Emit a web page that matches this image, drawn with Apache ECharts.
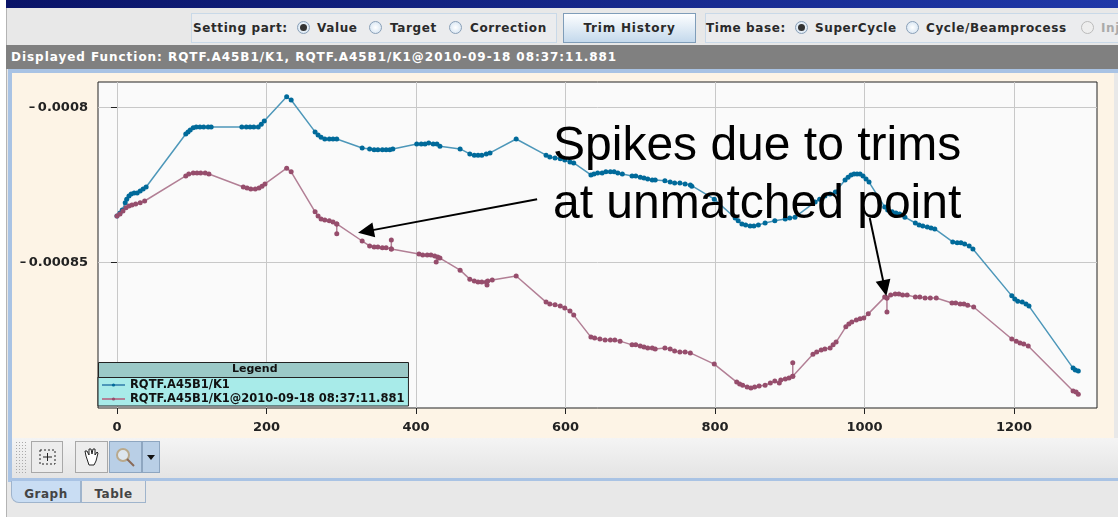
<!DOCTYPE html>
<html>
<head>
<meta charset="utf-8">
<title>Trim history</title>
<script src="https://cdn.jsdelivr.net/npm/echarts@6/dist/echarts.min.js"></script>
<style>
html, body { margin: 0; padding: 0; background: #fff; }
#page { position: relative; width: 1118px; height: 517px; overflow: hidden; font: bold 12px "DejaVu Sans", sans-serif; color: #2a2a2a; }
#page div, #page span { position: absolute; white-space: nowrap; }
#chart { left: 0; top: 0; width: 1118px; height: 517px; }
.titlebar { left: 6px; top: 0; width: 1112px; height: 8px; background: linear-gradient(90deg, #0a1468, #2038a8); }
.back { left: 6px; top: 8px; width: 1112px; height: 509px; background: #e8e8e8; border-left: 1px solid #b4b4b4; }
.box { top: 13px; height: 28px; border: 1px solid #c9d9e8; background: #ebecee; }
.lbl { top: 20px; line-height: 16px; letter-spacing: 0.6px; }
.radio { top: 21px; width: 11px; height: 11px; border-radius: 50%; border: 1px solid #8aa0b8; background: radial-gradient(#fff, #cfe0f0); }
.radio.on::after { content: ""; position: absolute; left: 2px; top: 2px; width: 7px; height: 7px; border-radius: 50%; background: #333; }
.trim { left: 563px; top: 13px; width: 131px; height: 28px; line-height: 28px; text-align: center; letter-spacing: 0.8px; border: 1px solid #7f9db9; background: linear-gradient(#fdfeff, #c4d9ec); }
.grey { left: 6px; top: 45px; width: 1112px; height: 24px; line-height: 24px; background: #808080; color: #fff; letter-spacing: 0.96px; }
.edge { left: 8px; top: 69px; width: 1110px; height: 4px; background: #a9c3e4; }
.edgeL { left: 8px; top: 69px; width: 4px; height: 413px; background: #a9c3e4; }
.cream { left: 12px; top: 73px; width: 1102px; height: 365px; background: #fdf4e6; }
.tools { left: 12px; top: 438px; width: 1106px; height: 40px; background: linear-gradient(#f4f4f4, #e4e4e4); }
.grip { left: 15px; top: 441px; width: 11px; height: 33px; background-image: radial-gradient(#aaa 1px, transparent 1px); background-size: 3px 3px; }
.btn { top: 441px; height: 30px; border: 1px solid #a8a8a8; background: #ececec; }
.btn.active { background: #b9cfe6; border-color: #8ea6c0; }
.rule { left: 8px; top: 478px; width: 1110px; height: 3px; background: #a9c3e4; }
.tab { top: 481px; height: 21px; line-height: 27px; text-align: center; color: #444; letter-spacing: 0.5px; border: 1px solid #9fb4cc; border-top: none; }
</style>
</head>
<body>
<div id="page">
  <div class="titlebar"></div>
  <div class="back"></div>
  <div class="box" style="left:191px;width:364px"></div>
  <div class="lbl" style="left:193px">Setting part:</div>
  <div class="radio on" style="left:297px"></div><div class="lbl" style="left:317px">Value</div>
  <div class="radio" style="left:369px"></div><div class="lbl" style="left:390px">Target</div>
  <div class="radio" style="left:449px"></div><div class="lbl" style="left:470px">Correction</div>
  <div class="trim">Trim History</div>
  <div class="box" style="left:705px;width:420px"></div>
  <div class="lbl" style="left:706px">Time base:</div>
  <div class="radio on" style="left:795px"></div><div class="lbl" style="left:815px">SuperCycle</div>
  <div class="radio" style="left:906px"></div><div class="lbl" style="left:926px">Cycle/Beamprocess</div>
  <div class="radio" style="left:1081px;background:#eee;border-color:#bbb"></div><div class="lbl" style="left:1101px;color:#aaa">Inj</div>
  <div class="grey"><span style="left:5px">Displayed Function: RQTF.A45B1/K1, RQTF.A45B1/K1@2010-09-18 08:37:11.881</span></div>
  <div class="edge"></div>
  <div class="edgeL"></div>
  <div class="cream"></div>
  <div class="tools"></div>
  <div class="grip"></div>
  <div class="btn" style="left:31px;width:30px">
    <svg width="30" height="30"><rect x="8" y="8" width="15" height="14" fill="none" stroke="#222" stroke-dasharray="2 2"/><path d="M11 15h9M15.5 11v8" stroke="#222"/></svg>
  </div>
  <div class="btn" style="left:75px;width:31px">
    <svg width="31" height="30"><path d="M10 14l-1-5 2 0 2 4 0-6 2 0 1 5 1-5 2 0 0 6 2-3 1 1-2 8-2 4h-5z" fill="#fff" stroke="#222"/></svg>
  </div>
  <div class="btn active" style="left:109px;width:31px">
    <svg width="31" height="30"><circle cx="13" cy="13" r="6" fill="#dde6ee" stroke="#b9a98c" stroke-width="2"/><path d="M17 17l7 7" stroke="#8a6a58" stroke-width="2"/></svg>
  </div>
  <div class="btn active" style="left:142px;width:16px">
    <svg width="16" height="30"><path d="M4 13h8l-4 5z" fill="#111"/></svg>
  </div>
  <div class="rule"></div>
  <div class="tab" style="left:11px;width:68px;background:#c9ddf3;border-radius:0 0 0 8px">Graph</div>
  <div class="tab" style="left:81px;width:63px;background:#e8e8e8">Table</div>
  <div id="chart"></div>
</div>
<script>
const xTicks = [0, 200, 400, 600, 800, 1000, 1200]
const yTicks = [-0.00085, -0.0008]

const seriesNames = ['RQTF.A45B1/K1', 'RQTF.A45B1/K1@2010-09-18 08:37:11.881']

const currentX = [0, 4, 7, 11, 13, 16, 19, 23, 27, 31, 35, 39, 92, 95, 98, 102, 106, 111, 116, 122, 126, 167, 173, 178, 183, 189, 193, 197, 227, 233, 265, 269, 273, 278, 284, 289, 294, 328, 338, 344, 349, 355, 360, 365, 369, 401, 407, 412, 417, 423, 428, 432, 459, 472, 478, 483, 488, 494, 499, 534, 574, 579, 586, 593, 599, 606, 611, 634, 638, 643, 649, 654, 660, 665, 670, 676, 689, 694, 700, 705, 710, 716, 720, 733, 740, 746, 753, 760, 767, 769, 799, 827, 831, 836, 841, 847, 852, 858, 867, 880, 894, 900, 907, 934, 940, 947, 954, 961, 974, 978, 982, 986, 990, 994, 998, 1002, 1006, 1027, 1031, 1037, 1042, 1047, 1054, 1068, 1073, 1078, 1084, 1089, 1094, 1118, 1124, 1129, 1134, 1140, 1145, 1197, 1201, 1205, 1211, 1216, 1220, 1279, 1282, 1286]
const currentY = [-0.0008349, -0.000834, -0.000833, -0.0008307, -0.0008295, -0.0008285, -0.0008278, -0.0008275, -0.0008275, -0.0008269, -0.0008262, -0.0008256, -0.0008085, -0.0008078, -0.0008072, -0.0008065, -0.0008062, -0.0008062, -0.0008062, -0.0008062, -0.0008062, -0.0008062, -0.0008062, -0.0008062, -0.0008062, -0.0008062, -0.0008053, -0.0008043, -0.0007965, -0.0007975, -0.0008078, -0.0008088, -0.0008095, -0.0008101, -0.0008101, -0.0008101, -0.0008101, -0.000813, -0.0008133, -0.0008136, -0.0008136, -0.0008136, -0.0008136, -0.0008136, -0.0008133, -0.0008117, -0.0008117, -0.0008117, -0.0008114, -0.0008117, -0.0008117, -0.0008124, -0.0008133, -0.0008149, -0.0008153, -0.0008153, -0.0008153, -0.0008149, -0.0008146, -0.0008101, -0.0008153, -0.0008159, -0.0008162, -0.0008165, -0.0008169, -0.0008175, -0.0008178, -0.0008217, -0.0008214, -0.0008211, -0.0008211, -0.0008207, -0.0008207, -0.0008207, -0.0008211, -0.0008214, -0.000822, -0.000822, -0.0008224, -0.0008227, -0.000823, -0.0008233, -0.0008233, -0.0008236, -0.000824, -0.0008243, -0.0008243, -0.0008246, -0.0008249, -0.0008253, -0.0008295, -0.0008356, -0.0008365, -0.0008375, -0.0008378, -0.0008382, -0.0008382, -0.0008378, -0.0008372, -0.0008365, -0.0008359, -0.0008356, -0.0008353, -0.0008304, -0.0008295, -0.0008285, -0.0008278, -0.0008272, -0.0008233, -0.0008224, -0.0008217, -0.0008214, -0.0008214, -0.0008214, -0.000822, -0.000823, -0.000824, -0.000832, -0.000833, -0.0008336, -0.000834, -0.0008343, -0.0008353, -0.0008372, -0.0008378, -0.0008382, -0.0008385, -0.0008388, -0.0008391, -0.0008433, -0.0008436, -0.0008436, -0.000844, -0.0008446, -0.0008456, -0.0008607, -0.0008617, -0.0008624, -0.0008627, -0.0008633, -0.000864, -0.000884, -0.0008846, -0.0008849]

const historyX = [0, 4, 8, 12, 16, 20, 25, 31, 37, 92, 96, 102, 107, 112, 118, 123, 169, 174, 179, 185, 190, 194, 198, 227, 233, 265, 269, 273, 278, 284, 289, 294, 294, 294, 328, 338, 344, 349, 355, 360, 367, 367, 367, 404, 409, 415, 420, 425, 429, 427, 432, 459, 472, 478, 483, 488, 494, 495, 496, 502, 534, 574, 579, 586, 593, 599, 606, 611, 634, 639, 646, 653, 660, 666, 673, 689, 694, 700, 705, 710, 716, 720, 733, 740, 746, 753, 760, 767, 799, 829, 833, 837, 843, 848, 853, 859, 867, 874, 880, 886, 888, 894, 899, 904, 904, 904, 931, 936, 942, 947, 954, 958, 962, 975, 979, 983, 989, 994, 999, 1005, 1027, 1030, 1030, 1030, 1035, 1041, 1046, 1051, 1057, 1068, 1074, 1081, 1088, 1096, 1117, 1122, 1128, 1133, 1138, 1146, 1197, 1203, 1208, 1213, 1219, 1279, 1283, 1286]
const historyY = [-0.0008349, -0.0008343, -0.0008333, -0.0008323, -0.0008317, -0.0008314, -0.0008311, -0.0008307, -0.0008301, -0.000822, -0.0008214, -0.0008211, -0.0008211, -0.0008211, -0.0008211, -0.0008214, -0.0008256, -0.0008259, -0.0008262, -0.0008262, -0.0008259, -0.0008253, -0.0008246, -0.0008195, -0.0008207, -0.0008336, -0.0008349, -0.0008359, -0.0008362, -0.0008365, -0.0008369, -0.0008375, -0.0008407, -0.0008375, -0.000843, -0.0008446, -0.0008449, -0.0008449, -0.0008452, -0.0008452, -0.0008456, -0.0008427, -0.0008456, -0.0008472, -0.0008475, -0.0008475, -0.0008475, -0.0008478, -0.0008482, -0.0008498, -0.0008485, -0.0008524, -0.0008553, -0.0008559, -0.0008562, -0.0008562, -0.0008562, -0.0008572, -0.0008559, -0.0008556, -0.0008543, -0.0008627, -0.0008633, -0.0008636, -0.000864, -0.0008646, -0.0008656, -0.0008669, -0.000874, -0.0008743, -0.0008746, -0.0008749, -0.0008749, -0.0008749, -0.0008753, -0.0008765, -0.0008765, -0.0008769, -0.0008772, -0.0008775, -0.0008775, -0.0008778, -0.0008775, -0.0008778, -0.0008785, -0.0008788, -0.0008788, -0.0008791, -0.0008827, -0.0008885, -0.0008891, -0.0008895, -0.0008901, -0.0008904, -0.0008901, -0.0008898, -0.0008895, -0.0008888, -0.0008882, -0.0008888, -0.0008878, -0.0008875, -0.0008872, -0.0008866, -0.0008823, -0.0008866, -0.0008795, -0.0008788, -0.0008782, -0.0008778, -0.0008775, -0.0008765, -0.0008756, -0.0008707, -0.0008698, -0.0008691, -0.0008685, -0.0008681, -0.0008678, -0.0008665, -0.0008611, -0.0008614, -0.0008659, -0.0008614, -0.0008604, -0.0008601, -0.0008601, -0.0008604, -0.0008604, -0.0008611, -0.0008611, -0.0008614, -0.0008614, -0.0008614, -0.000863, -0.000863, -0.0008633, -0.0008633, -0.0008637, -0.0008643, -0.0008746, -0.0008753, -0.0008759, -0.0008762, -0.0008769, -0.0008914, -0.0008917, -0.0008924]

const arrowLines = [
  [[562, -0.0008295], [333, -0.0008399]],
  [[1007, -0.0008356], [1027, -0.0008582]]
]

const uiFont = 'DejaVu Sans'

const zip = (xs, ys) => xs.map((x, i) => [x, ys[i]])

const chart = echarts.init(document.getElementById('chart'), null, { renderer: 'canvas' })

chart.setOption({
  animation: false,
  grid: {
    left: 98,
    top: 82,
    width: 999,
    height: 326,
    show: true,
    backgroundColor: '#fafafa',
    borderColor: '#222',
    borderWidth: 1
  },
  xAxis: {
    type: 'value',
    min: -25.4,
    max: 1311,
    axisLine: { show: false },
    axisTick: { customValues: xTicks, length: 6, lineStyle: { color: '#222' } },
    axisLabel: {
      customValues: xTicks,
      margin: 13,
      color: '#222',
      fontFamily: uiFont,
      fontWeight: 'bold',
      fontSize: 13,
      formatter: v => String(v)
    },
    splitLine: { show: true, customValues: xTicks, lineStyle: { color: '#c8c8c8', width: 1 } }
  },
  yAxis: {
    type: 'value',
    min: -0.00089687,
    max: -0.00079171,
    axisLine: { show: false },
    axisTick: { customValues: yTicks, length: 6, lineStyle: { color: '#222' } },
    axisLabel: {
      customValues: yTicks,
      margin: 10,
      padding: [3, 0, 0, 0],
      color: '#222',
      fontFamily: uiFont,
      fontWeight: 'bold',
      fontSize: 13,
      formatter: v => '\u2013\u2009' + (v === yTicks[1] ? '0.0008' : '0.00085')
    },
    splitLine: { show: true, customValues: yTicks, lineStyle: { color: '#c8c8c8', width: 1 } }
  },
  legend: {
    orient: 'vertical',
    left: 98,
    top: 377,
    padding: [2, 4, 1, 3],
    itemGap: 2,
    itemWidth: 23,
    itemHeight: 4,
    backgroundColor: '#a8ebe9',
    borderColor: '#222',
    borderWidth: 1,
    textStyle: { fontFamily: uiFont, fontWeight: 'bold', fontSize: 11.5, color: '#111' },
    data: seriesNames
  },
  series: [
    {
      name: seriesNames[0],
      type: 'line',
      symbol: 'circle',
      symbolSize: 5,
      itemStyle: { color: '#006a9a' },
      lineStyle: { color: '#4d97b9', width: 1.5 },
      data: zip(currentX, currentY),
      z: 3
    },
    {
      name: seriesNames[1],
      type: 'line',
      symbol: 'circle',
      symbolSize: 5,
      itemStyle: { color: '#964d6c' },
      lineStyle: { color: '#b27f95', width: 1.5 },
      data: zip(historyX, historyY),
      z: 3,
      markLine: {
        silent: true,
        animation: false,
        symbol: ['none', 'triangle'],
        symbolSize: [15, 16],
        label: { show: false },
        lineStyle: { color: '#000', width: 2, type: 'solid' },
        data: arrowLines.map(a => [{ coord: a[0] }, { coord: a[1] }])
      }
    }
  ],
  graphic: [
    {
      type: 'text',
      left: 553,
      top: 118,
      z: 20,
      style: {
        text: 'Spikes due to trims\nat unmatched point',
        font: '48px "Liberation Sans"',
        lineHeight: 58,
        fill: '#000'
      }
    },
    {
      type: 'rect',
      left: 98,
      top: 362,
      z: 20,
      shape: { width: 310, height: 15 },
      style: { fill: '#9bc9c7', stroke: '#222', lineWidth: 1 }
    },
    {
      type: 'text',
      left: 232,
      top: 364,
      z: 21,
      style: { text: 'Legend', font: 'bold 11px "DejaVu Sans"', fill: '#111' }
    }
  ]
})
</script>
</body>
</html>
